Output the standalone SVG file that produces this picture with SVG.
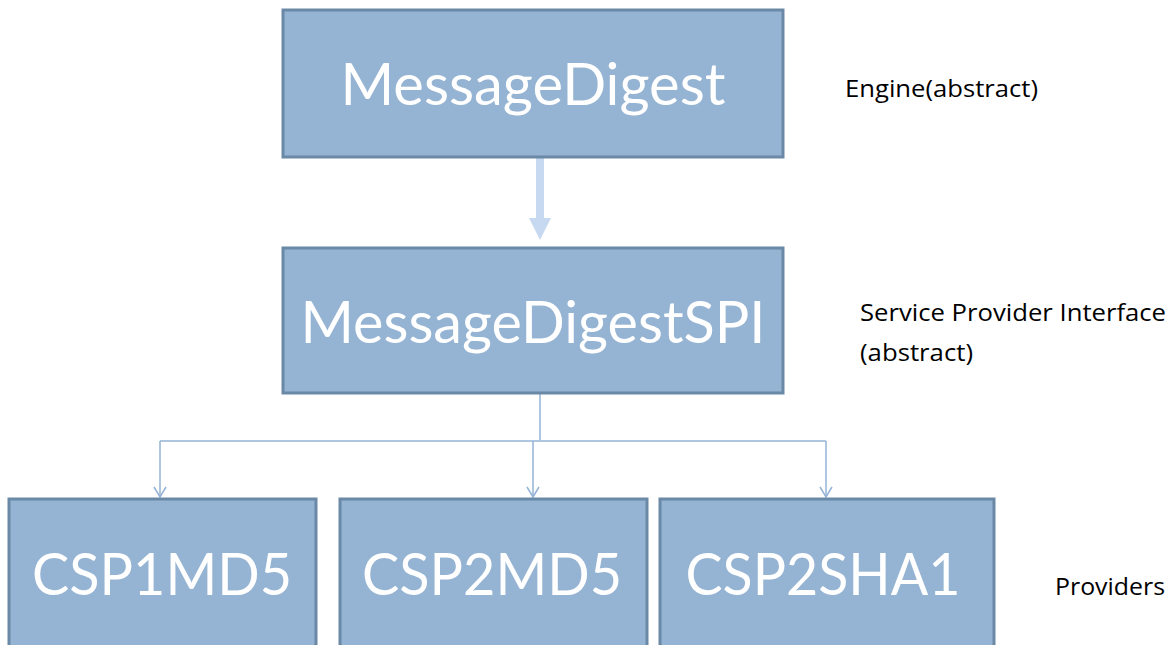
<svg xmlns="http://www.w3.org/2000/svg" width="1172" height="645" viewBox="0 0 1172 645">
  <style>
    .box { fill: #95B3D2; stroke: #6A89A6; stroke-width: 3; }
    .title { font-family: "Lato", "Open Sans", sans-serif; font-size: 58px; fill: #FFFFFF; text-anchor: middle; }
    .note { font-family: "Open Sans", "Liberation Sans", sans-serif; font-size: 24px; fill: #000000; }
    .link { fill: none; stroke: #95B3D7; stroke-width: 1.5; }
  </style>
  <defs>
    <marker id="open-arrow" viewBox="0 0 12 14" refX="11" refY="7" markerWidth="12" markerHeight="14" markerUnits="userSpaceOnUse" orient="auto">
      <path d="M1,1 L11,7 L1,13" fill="none" stroke="#95B3D7" stroke-width="1.5"/>
    </marker>
  </defs>
  <rect width="1172" height="645" fill="#FFFFFF"/>

  <g id="connectors">
    <!-- engine to SPI: thick block arrow -->
    <path d="M536,155 H544 V218 H551 L540,240 L529,218 H536 Z" fill="#C6D9F0"/>
    <!-- SPI to providers: tree with open arrowheads -->
    <path class="link" d="M540,393 V440"/>
    <path class="link" d="M160,441 H826"/>
    <path class="link" d="M160,441 V497" marker-end="url(#open-arrow)"/>
    <path class="link" d="M533,441 V497" marker-end="url(#open-arrow)"/>
    <path class="link" d="M826,441 V497" marker-end="url(#open-arrow)"/>
  </g>

  <g id="message-digest">
    <rect class="box" x="283" y="10" width="500" height="147"/>
    <text class="title" x="533" y="105" textLength="385" lengthAdjust="spacingAndGlyphs">MessageDigest</text>
  </g>

  <g id="message-digest-spi">
    <rect class="box" x="283" y="248" width="500" height="145"/>
    <text class="title" x="533" y="343" textLength="465" lengthAdjust="spacingAndGlyphs">MessageDigestSPI</text>
  </g>

  <g id="csp1md5">
    <rect class="box" x="9" y="499" width="307" height="160"/>
    <text class="title" x="162" y="595" textLength="260" lengthAdjust="spacingAndGlyphs">CSP1MD5</text>
  </g>

  <g id="csp2md5">
    <rect class="box" x="340" y="499" width="307" height="160"/>
    <text class="title" x="492" y="595" textLength="260" lengthAdjust="spacingAndGlyphs">CSP2MD5</text>
  </g>

  <g id="csp2sha1">
    <rect class="box" x="660" y="499" width="334" height="160"/>
    <text class="title" x="823" y="595" textLength="275" lengthAdjust="spacingAndGlyphs">CSP2SHA1</text>
  </g>

  <g id="labels">
    <text class="note" x="845" y="97" textLength="193" lengthAdjust="spacingAndGlyphs">Engine(abstract)</text>
    <text class="note" x="860" y="321" textLength="306" lengthAdjust="spacingAndGlyphs">Service Provider Interface</text>
    <text class="note" x="860" y="361" textLength="113" lengthAdjust="spacingAndGlyphs">(abstract)</text>
    <text class="note" x="1055" y="595" textLength="110" lengthAdjust="spacingAndGlyphs">Providers</text>
  </g>
</svg>
